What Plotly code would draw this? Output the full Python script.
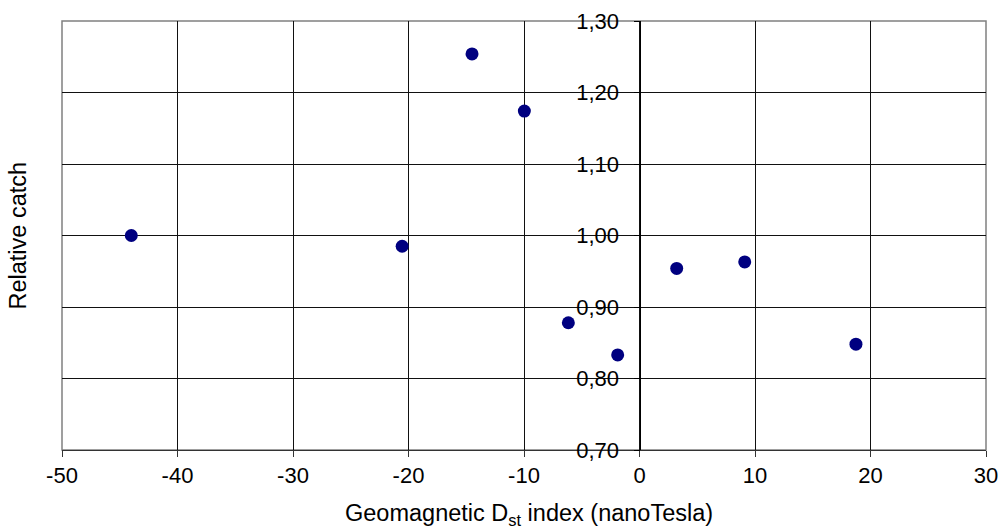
import plotly.graph_objects as go

dst_index = [-44.0, -20.55, -14.5, -9.97, -6.16, -1.89, 3.22, 9.11, 18.74]
relative_catch = [1.000, 0.985, 1.254, 1.174, 0.878, 0.833, 0.954, 0.963, 0.848]

x_tick_values = [-50, -40, -30, -20, -10, 0, 10, 20, 30]
x_tick_labels = ["-50", "-40", "-30", "-20", "-10", "0", "10", "20", "30"]
y_tick_values = [0.70, 0.80, 0.90, 1.00, 1.10, 1.20, 1.30]
y_tick_labels = ["0,70", "0,80", "0,90", "1,00", "1,10", "1,20", "1,30"]

x_range = [-50, 30]
y_range = [0.70, 1.30]

FONT = "Arial, 'Liberation Sans', sans-serif"
FS = 22
TFS = 23.5

fig = go.Figure()
fig.add_trace(go.Scatter(
    x=dst_index, y=relative_catch, mode="markers",
    marker=dict(color="#000080", size=13, line=dict(width=0)),
    showlegend=False, hoverinfo="x+y",
))

y_pos = (0 - x_range[0]) / (x_range[1] - x_range[0])

fig.update_layout(
    width=1001, height=528,
    margin=dict(l=62, r=15, t=21, b=78, pad=0, autoexpand=False),
    paper_bgcolor="white", plot_bgcolor="white",
    font=dict(family=FONT, size=FS, color="black"),
    xaxis=dict(
        range=x_range, tickmode="array", tickvals=x_tick_values, ticktext=x_tick_labels,
        domain=[0, 1], automargin=False,
        showgrid=True, gridcolor="#111111", gridwidth=1,
        zeroline=False, showline=True, linecolor="#333333", linewidth=1,
        ticks="outside", ticklen=6, tickcolor="#333333",
        tickfont=dict(size=FS),
    ),
    yaxis=dict(
        range=y_range, tickmode="array", tickvals=y_tick_values, ticktext=y_tick_labels,
        anchor="free", position=y_pos, automargin=False,
        showgrid=True, gridcolor="#111111", gridwidth=1,
        zeroline=False, showline=True, linecolor="#000000", linewidth=1,
        ticks="outside", ticklen=6, tickcolor="#000000",
        tickfont=dict(size=FS), ticklabelstandoff=10,
    ),
    shapes=[dict(
        type="rect", xref="paper", yref="paper", x0=0, x1=1, y0=0, y1=1,
        line=dict(color="#808080", width=1.5), layer="between",
    )],
    annotations=[
        dict(text="Relative catch", xref="paper", yref="paper",
             x=-(62 - 17) / 924, y=0.5, xanchor="center", yanchor="middle",
             textangle=-90, showarrow=False, font=dict(size=TFS)),
        dict(text="Geomagnetic D<sub>st</sub> index (nanoTesla)", xref="paper", yref="paper",
             x=(529 - 62) / 924, y=-(514 - 450) / 429, xanchor="center", yanchor="middle",
             showarrow=False, font=dict(size=TFS)),
    ],
)

fig.write_html(
    "out.html",
    config={"displayModeBar": False},
    post_script="document.body.style.margin='0';document.body.style.overflow='hidden';",
)
